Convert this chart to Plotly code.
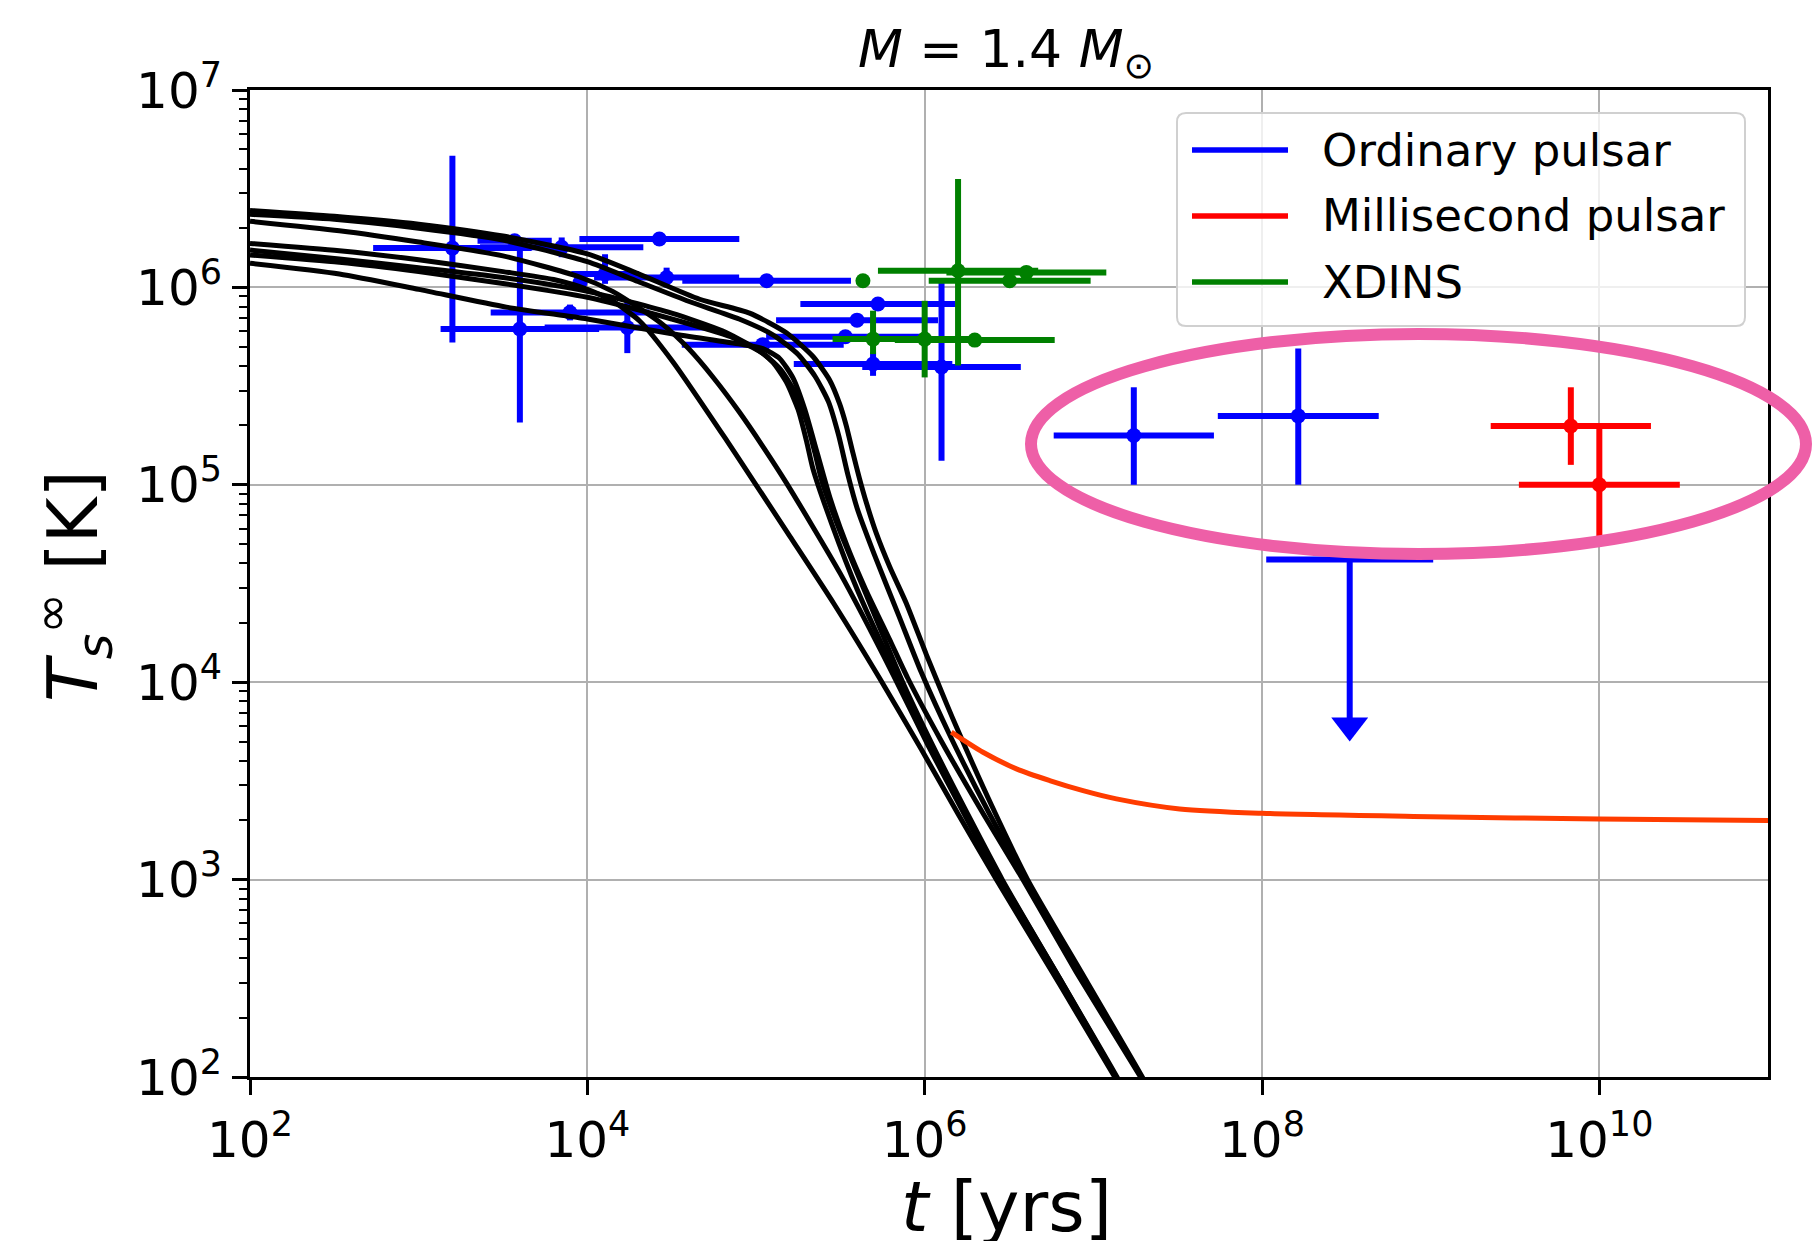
import numpy as np
import plotly.graph_objects as go

# ---------------- data (log10 values) ----------------
# Ordinary pulsars: log10 t [yr], log10 T [K], errors in dex
blue_logt = [3.20, 3.569, 3.848, 4.427, 3.957, 4.105, 4.47, 5.063, 3.897, 3.60,
             4.237, 5.04, 5.723, 5.599, 5.53, 5.694, 6.10, 7.24, 8.215]
blue_logT = [6.199, 6.236, 6.203, 6.245, 6.025, 6.068, 6.05, 6.034, 5.873, 5.789,
             5.797, 5.71, 5.916, 5.834, 5.75, 5.612, 5.597, 5.25, 5.349]
blue_dt = [0.47, 0.22, 0.484, 0.474, 0.0, 0.2, 0.43, 0.5, 0.47, 0.47,
           0.49, 0.48, 0.46, 0.48, 0.47, 0.47, 0.47, 0.475, 0.477]
blue_dT_minus = [0.478, 0.02, 0.05, 0.0, 0.0, 0.05, 0.05, 0.0, 0.04, 0.473,
                 0.13, 0.0, 0.0, 0.0, 0.0, 0.06, 0.475, 0.25, 0.349]
blue_dT_plus = [0.468, 0.02, 0.05, 0.0, 0.0, 0.10, 0.05, 0.0, 0.04, 0.447,
                0.13, 0.0, 0.0, 0.0, 0.0, 0.06, 0.43, 0.244, 0.342]

# Ordinary pulsar upper limit
ul_logt = [8.52]
ul_logT = [4.621]
ul_dt = [0.495]
ul_tip_logT = [3.70]

# XDINS
green_logt = [5.634, 6.198, 6.603, 6.504, 5.694, 6.0, 6.297]
green_logT = [6.034, 6.084, 6.076, 6.034, 5.738, 5.738, 5.733]
green_dt = [0.0, 0.475, 0.474, 0.48, 0.24, 0.3, 0.474]
green_dT_minus = [0.0, 0.48, 0.0, 0.0, 0.076, 0.194, 0.0]
green_dT_plus = [0.0, 0.465, 0.0, 0.0, 0.144, 0.194, 0.0]

# Millisecond pulsars
red_logt = [9.831, 10.0]
red_logT = [5.298, 5.0]
red_dt = [0.475, 0.477]
red_dT_minus = [0.197, 0.261]
red_dT_plus = [0.196, 0.295]

# Cooling curves (black), log10 t and log10 T
curve_FA_t = [2.0, 2.53, 3.0, 3.5, 3.8, 4.0, 4.15, 4.31, 4.51, 4.83, 5.0, 5.2, 5.46, 5.733, 5.98, 6.2, 6.425, 6.8, 7.127, 7.2]
curve_FA_T = [6.223, 6.186, 6.14, 6.08, 6.04, 5.99, 5.93, 5.83, 5.62, 5.22, 5.0, 4.74, 4.40, 4.02, 3.66, 3.33, 3.0, 2.47, 2.0, 1.9]
curve_FB_t = [2.0, 2.53, 3.0, 3.5, 3.95, 4.15, 4.3, 4.45, 4.6, 4.75, 4.9, 5.044, 5.18, 5.5, 5.812, 6.02, 6.23, 6.44, 6.8, 7.135, 7.2]
curve_FB_T = [6.335, 6.287, 6.23, 6.16, 6.054, 5.98, 5.90, 5.81, 5.69, 5.54, 5.37, 5.19, 5.01, 4.55, 4.04, 3.68, 3.34, 3.0, 2.49, 2.0, 1.9]
curve_K2_t = [2.0, 2.53, 3.0, 3.5, 4.0, 4.5, 4.8, 5.0, 5.1, 5.18, 5.25, 5.3, 5.338, 5.45, 5.6, 5.852, 6.1, 6.455, 6.8, 7.135, 7.2]
curve_K2_T = [6.189, 6.144, 6.10, 6.05, 5.98, 5.87, 5.78, 5.69, 5.62, 5.52, 5.38, 5.22, 5.08, 4.80, 4.47, 4.0, 3.57, 3.0, 2.5, 2.0, 1.9]
curve_K4_t = [2.0, 2.53, 3.0, 3.5, 4.0, 4.5, 4.85, 5.05, 5.15, 5.23, 5.3, 5.35, 5.39, 5.5, 5.65, 5.87, 6.1, 6.46, 6.8, 7.14, 7.2]
curve_K4_T = [6.164, 6.127, 6.08, 6.02, 5.95, 5.84, 5.75, 5.66, 5.58, 5.47, 5.32, 5.16, 5.02, 4.76, 4.45, 4.0, 3.59, 3.0, 2.5, 2.0, 1.9]
curve_K1_t = [2.0, 2.53, 3.0, 3.52, 4.0, 4.51, 4.906, 5.04, 5.14, 5.22, 5.29, 5.36, 5.44, 5.54, 5.65, 5.79, 5.90, 6.1, 6.35, 6.583, 6.9, 7.28, 7.35]
curve_K1_T = [6.122, 6.068, 5.99, 5.90, 5.84, 5.764, 5.713, 5.69, 5.64, 5.54, 5.38, 5.17, 4.93, 4.69, 4.47, 4.22, 4.02, 3.70, 3.33, 3.0, 2.53, 2.0, 1.9]
curve_K3_t = [2.0, 2.5, 3.0, 3.5, 4.0, 4.3, 4.6, 4.9, 5.1, 5.25, 5.35, 5.43, 5.49, 5.545, 5.6, 5.7, 5.85, 5.98, 6.15, 6.38, 6.60, 6.95, 7.285, 7.35]
curve_K3_T = [6.37, 6.345, 6.30, 6.24, 6.13, 6.03, 5.93, 5.84, 5.76, 5.66, 5.55, 5.42, 5.25, 5.05, 4.88, 4.65, 4.33, 4.05, 3.73, 3.34, 3.0, 2.49, 2.0, 1.9]
curve_R1_t = [2.0, 2.5, 3.0, 3.5, 4.0, 4.3, 4.666, 4.962, 5.18, 5.338, 5.437, 5.496, 5.535, 5.575, 5.614, 5.654, 5.713, 5.792, 5.891, 6.01, 6.13, 6.2, 6.4, 6.61, 6.95, 7.29, 7.35]
curve_R1_T = [6.39, 6.36, 6.32, 6.26, 6.17, 6.07, 5.94, 5.87, 5.77, 5.65, 5.53, 5.41, 5.30, 5.16, 5.03, 4.91, 4.755, 4.586, 4.40, 4.14, 3.89, 3.75, 3.37, 3.0, 2.5, 2.0, 1.9]

black_curves = [(curve_FA_t, curve_FA_T), (curve_FB_t, curve_FB_T), (curve_K2_t, curve_K2_T),
                (curve_K4_t, curve_K4_T), (curve_K1_t, curve_K1_T), (curve_K3_t, curve_K3_T),
                (curve_R1_t, curve_R1_T)]

# Millisecond-pulsar heating curve (orange-red)
msp_logt = [6.158, 6.346, 6.544, 6.741, 6.939, 7.137, 7.512, 8.0, 9.0, 10.0, 11.0]
msp_logT = [3.747, 3.645, 3.561, 3.502, 3.451, 3.409, 3.358, 3.336, 3.319, 3.307, 3.30]

legend_labels = ["Ordinary pulsar", "Millisecond pulsar", "XDINS"]
legend_colors = ["#0000ff", "#ff0000", "#008000"]

# ---------------- layout geometry ----------------
W, H = 1814, 1241
L, R, T, B = 250, 46, 90, 164
PW, PH = W - L - R, H - T - B


def px_x(px):
    return (px - L) / PW


def px_y(py):
    return (H - B - py) / PH


def lin(v):
    return 10.0 ** np.asarray(v, dtype=float)


def err_arrays(logv, dminus, dplus):
    c = lin(logv)
    hi = lin(np.asarray(logv) + np.asarray(dplus))
    lo = lin(np.asarray(logv) - np.asarray(dminus))
    return (hi - c).tolist(), (c - lo).tolist()


fig = go.Figure()

BAR_W = 6
MK = 15


def add_points(logt, logT, dt, dTm, dTp, color):
    xp, xm = err_arrays(logt, dt, dt)
    yp, ym = err_arrays(logT, dTm, dTp)
    fig.add_trace(go.Scatter(
        x=lin(logt), y=lin(logT), mode="markers",
        marker=dict(color=color, size=MK, line=dict(width=0)),
        error_x=dict(type="data", array=xp, arrayminus=xm, color=color,
                     thickness=BAR_W, width=0, symmetric=False),
        error_y=dict(type="data", array=yp, arrayminus=ym, color=color,
                     thickness=BAR_W, width=0, symmetric=False),
        showlegend=False, hoverinfo="skip"))


add_points(blue_logt, blue_logT, blue_dt, blue_dT_minus, blue_dT_plus, "#0000ff")
add_points(green_logt, green_logT, green_dt, green_dT_minus, green_dT_plus, "#008000")
add_points(red_logt, red_logT, red_dt, red_dT_minus, red_dT_plus, "#ff0000")

# upper limit: horizontal bar + downward arrow
ARROW_SIZE = 32
px_per_dex = PH / 5.0
for lt, lT, d, tip in zip(ul_logt, ul_logT, ul_dt, ul_tip_logT):
    fig.add_trace(go.Scatter(x=lin([lt - d, lt + d]), y=lin([lT, lT]), mode="lines",
                             line=dict(color="#0000ff", width=BAR_W),
                             showlegend=False, hoverinfo="skip"))
    head_c = tip + (ARROW_SIZE / 2) / px_per_dex
    fig.add_trace(go.Scatter(x=lin([lt, lt]), y=lin([lT, head_c]), mode="lines",
                             line=dict(color="#0000ff", width=BAR_W),
                             showlegend=False, hoverinfo="skip"))
    fig.add_trace(go.Scatter(x=lin([lt]), y=lin([head_c]), mode="markers",
                             marker=dict(symbol="triangle-down", size=ARROW_SIZE,
                                         color="#0000ff", line=dict(width=0)),
                             showlegend=False, hoverinfo="skip"))

# black cooling curves
for ct, cT in black_curves:
    fig.add_trace(go.Scatter(x=lin(ct), y=lin(cT), mode="lines",
                             line=dict(color="black", width=5, shape="spline", smoothing=0.6),
                             showlegend=False, hoverinfo="skip"))

# MSP curve
fig.add_trace(go.Scatter(x=lin(msp_logt), y=lin(msp_logT), mode="lines",
                         line=dict(color="#ff3c00", width=5, shape="spline", smoothing=0.8),
                         showlegend=False, hoverinfo="skip"))

# ---------------- axes ----------------
axis_common = dict(type="log", ticks="outside", ticklen=15, tickwidth=2.5, tickcolor="black",
                   showline=True, linewidth=3, linecolor="black", mirror=True,
                   showgrid=True, gridcolor="#b0b0b0", gridwidth=2, zeroline=False,
                   exponentformat="power", tickfont=dict(size=40, family="DejaVu Sans", color="black"))
fig.update_xaxes(range=[2, 11], tickmode="linear", tick0=0, dtick=2, ticklabelstandoff=4, **axis_common)
fig.update_yaxes(range=[2, 7], tickmode="linear", tick0=0, dtick=1, ticklabelstandoff=2,
                 minor=dict(ticks="outside", ticklen=8, tickwidth=1.5, tickcolor="black",
                            dtick="D1", showgrid=False),
                 **axis_common)

# ---------------- shapes: legend box, legend lines, ellipse ----------------
shapes = []
bx0, bx1 = px_x(1177), px_x(1745)
by1, by0 = px_y(113), px_y(326)
rx, ry = 9 / PW, 9 / PH
path = (f"M {bx0+rx},{by0} L {bx1-rx},{by0} Q {bx1},{by0} {bx1},{by0+ry} "
        f"L {bx1},{by1-ry} Q {bx1},{by1} {bx1-rx},{by1} L {bx0+rx},{by1} "
        f"Q {bx0},{by1} {bx0},{by1-ry} L {bx0},{by0+ry} Q {bx0},{by0} {bx0+rx},{by0} Z")
shapes.append(dict(type="path", path=path, xref="paper", yref="paper",
                   fillcolor="rgba(255,255,255,0.8)", line=dict(color="#d0d0d0", width=2),
                   layer="above"))
row_y = [150, 216, 282]
annotations = []
for lab, col, ry_px in zip(legend_labels, legend_colors, row_y):
    shapes.append(dict(type="line", xref="paper", yref="paper",
                       x0=px_x(1192), x1=px_x(1288), y0=px_y(ry_px), y1=px_y(ry_px),
                       line=dict(color=col, width=5.5), layer="above"))
    annotations.append(dict(text=lab, xref="paper", yref="paper", x=px_x(1320), y=px_y(ry_px),
                            xanchor="left", yanchor="middle", showarrow=False,
                            font=dict(size=45, family="DejaVu Sans", color="black")))

shapes.append(dict(type="circle", xref="paper", yref="paper",
                   x0=px_x(1031), x1=px_x(1806), y0=px_y(554), y1=px_y(334),
                   line=dict(color="#ee5fa7", width=12), layer="above"))

# axis titles
annotations.append(dict(text="<i>t</i> [yrs]", xref="paper", yref="paper",
                        x=px_x(1006), y=px_y(1207), xanchor="center", yanchor="middle",
                        showarrow=False, font=dict(size=70, family="DejaVu Sans", color="black")))
annotations.append(dict(text="<i>T</i><sub><i>s</i></sub><sup>∞</sup> [K]", xref="paper", yref="paper",
                        x=px_x(73), y=px_y(586), xanchor="center", yanchor="middle", textangle=-90,
                        showarrow=False, font=dict(size=70, family="DejaVu Sans", color="black")))

fig.update_layout(
    width=W, height=H,
    margin=dict(l=L, r=R, t=T, b=B, pad=0),
    plot_bgcolor="white", paper_bgcolor="white",
    showlegend=False,
    font=dict(family="DejaVu Sans", color="black"),
    title=dict(text="<i>M</i> = 1.4 <i>M</i><sub>⊙</sub>", x=px_x(1006), xanchor="center",
               xref="paper", y=1 - 49 / H, yanchor="middle", yref="container",
               font=dict(size=52, family="DejaVu Sans", color="black")),
    shapes=shapes, annotations=annotations,
)

fig.write_html("out.html", config={"displayModeBar": False},
               post_script="document.body.style.margin='0';")
